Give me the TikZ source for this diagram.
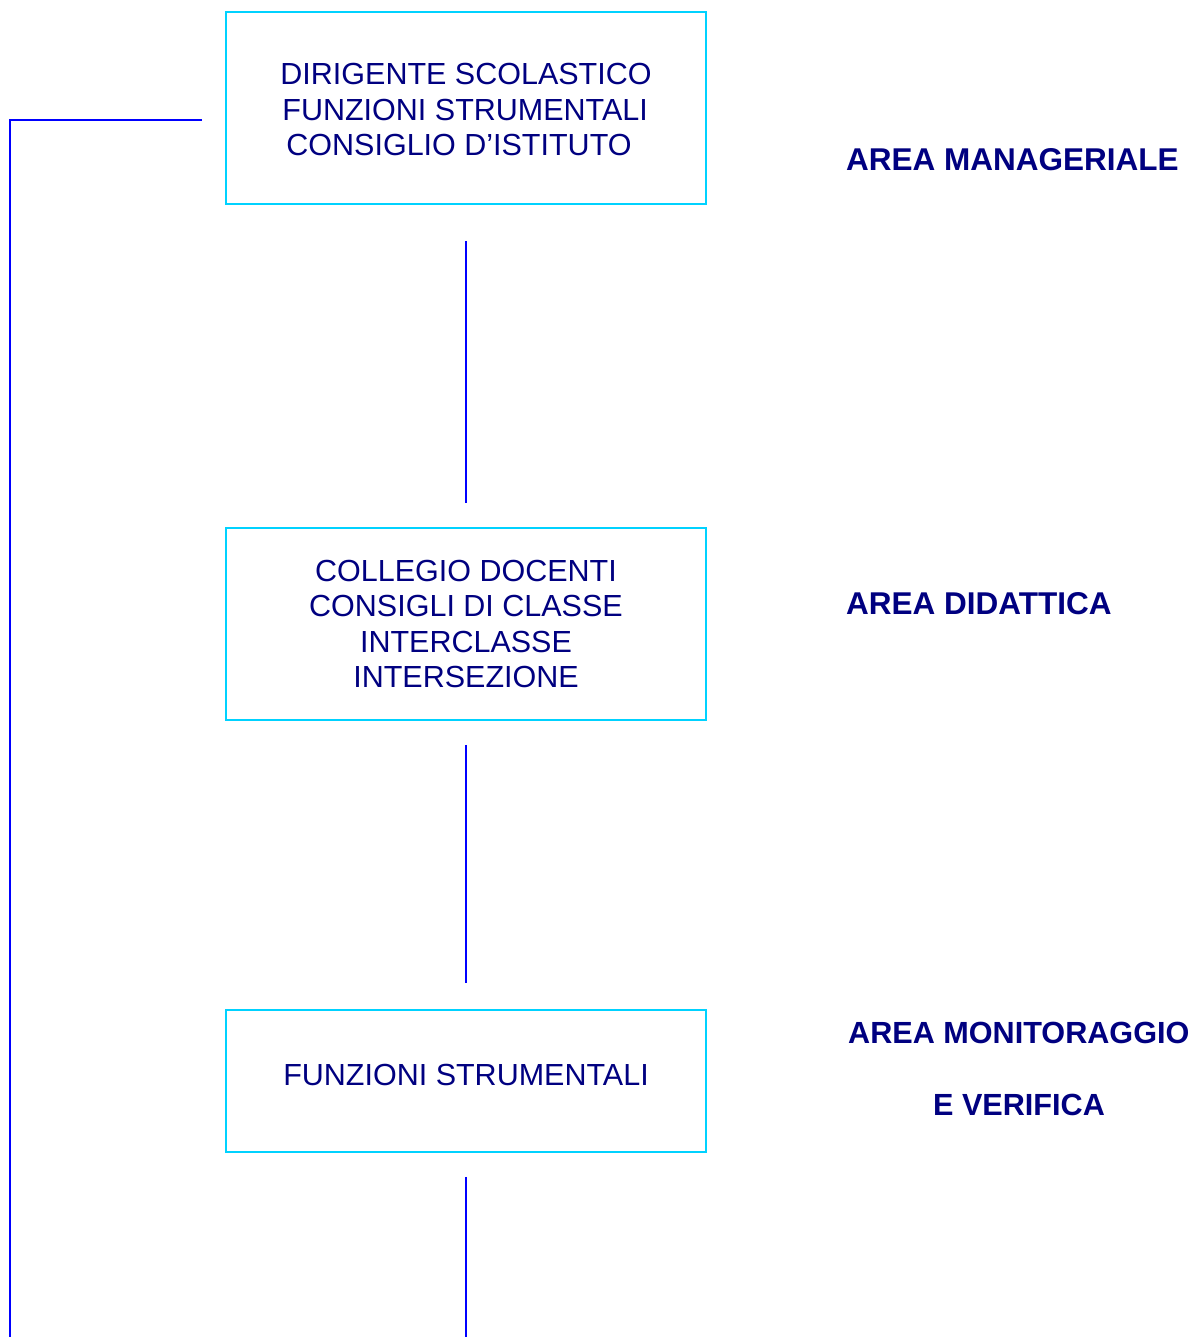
\documentclass[tikz,border=0pt]{standalone}
\usepackage{fontspec}
\setmainfont{Liberation Sans}
\definecolor{navytext}{RGB}{0,0,128}
\definecolor{boxline}{RGB}{0,210,255}
\definecolor{conline}{RGB}{0,0,255}
\begin{document}
\begin{tikzpicture}[x=1pt,y=-1pt,
  areabox/.style={draw=boxline,line width=1.6pt,minimum width=480pt,inner sep=0pt,
    text=navytext,font=\fontsize{30.5}{35.5}\selectfont},
  arealabel/.style={text=navytext,font=\fontsize{31.5}{35.5}\selectfont\bfseries,inner sep=0pt},
  conn/.style={draw=conline,line width=1.6pt}]
\useasboundingbox (0,0) rectangle (1190,1337);
\node[areabox,minimum height=192pt,align=left] (b1) at (466,108)
  {\raisebox{-5pt}[\height][\depth]{\begin{tabular}{@{}l@{}}DIRIGENTE SCOLASTICO\\\hspace*{2pt}FUNZIONI STRUMENTALI\\\hspace*{6pt}CONSIGLIO D’ISTITUTO\end{tabular}}};
\node[areabox,minimum height=192pt,align=center] (b2) at (466,624)
  {COLLEGIO DOCENTI\\CONSIGLI DI CLASSE\\INTERCLASSE\\INTERSEZIONE};
\node[areabox,minimum height=142pt,align=center] (b3) at (466,1081)
  {\raisebox{6pt}[\height][\depth]{FUNZIONI STRUMENTALI}};
\node[arealabel,anchor=west] (l1) at (846,160) {AREA MANAGERIALE};
\node[arealabel,anchor=west] (l2) at (846,604) {AREA DIDATTICA};
\node[arealabel,anchor=west,font=\fontsize{30.6}{35.5}\selectfont\bfseries] (l3) at (848,1033) {AREA MONITORAGGIO};
\node[arealabel,font=\fontsize{30.6}{35.5}\selectfont\bfseries] (l4) at (1019,1105) {E VERIFICA};
\coordinate (bot) at (466,1337);
\coordinate (hl) at (202,120);
\coordinate (corner) at (10,120);
\coordinate (lbot) at (10,1337);
\draw[conn,shorten <=36pt,shorten >=24pt] (b1.south) -- (b2.north);
\draw[conn,shorten <=24pt,shorten >=26pt] (b2.south) -- (b3.north);
\draw[conn,shorten <=24pt] (b3.south) -- (bot);
\draw[conn] (hl) -- (corner) -- (lbot);
\end{tikzpicture}
\end{document}
